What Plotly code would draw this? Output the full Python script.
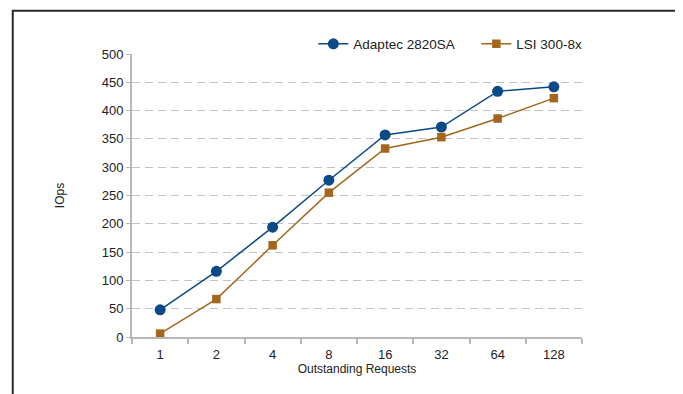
import plotly.graph_objects as go

categories = ["1", "2", "4", "8", "16", "32", "64", "128"]
adaptec = [48, 116, 194, 277, 357, 371, 434, 442]
lsi = [6, 67, 162, 255, 333, 353, 386, 422]
y_ticks = [0, 50, 100, 150, 200, 250, 300, 350, 400, 450, 500]

BLUE = "#0b4a86"
BROWN = "#a4661c"
FONT = "Liberation Sans, Arial, sans-serif"

fig = go.Figure()
fig.add_trace(go.Scatter(
    x=categories, y=adaptec, name="Adaptec 2820SA", mode="lines+markers",
    line=dict(color=BLUE, width=1.5),
    marker=dict(symbol="circle", size=11, color=BLUE),
))
fig.add_trace(go.Scatter(
    x=categories, y=lsi, name="LSI 300-8x", mode="lines+markers",
    line=dict(color=BROWN, width=1.5),
    marker=dict(symbol="square", size=8.5, color=BROWN),
))

fig.update_layout(
    width=683, height=394,
    margin=dict(l=124, r=109, t=46, b=65),
    paper_bgcolor="white", plot_bgcolor="white",
    font=dict(family=FONT, size=13, color="#222"),
    showlegend=True,
    legend=dict(orientation="h", x=0.403, y=1.035, xanchor="left", yanchor="middle",
                font=dict(size=13.5, color="#222"), bgcolor="rgba(0,0,0,0)",
                itemwidth=30, tracegroupgap=0, entrywidth=118),
    xaxis=dict(
        type="category", range=[-0.5, 7.5], tickson="boundaries",
        showline=True, linecolor="#b8b8b8", linewidth=2,
        ticks="outside", ticklen=5, tickcolor="#b8b8b8", tickwidth=1.5,
        showgrid=False, zeroline=False, ticklabelstandoff=4,
        tickfont=dict(size=13, color="#222"),
        title=dict(text="Outstanding Requests", font=dict(size=12, color="#222"), standoff=1),
    ),
    yaxis=dict(
        range=[0, 500], tickvals=y_ticks,
        showline=True, linecolor="#b8b8b8", linewidth=2,
        ticks="outside", ticklen=4, tickcolor="#b8b8b8",
        showgrid=True, gridcolor="#c4c4c4", gridwidth=1.2, griddash="8px,5px",
        zeroline=False,
        tickfont=dict(size=13, color="#222"),
        title=dict(text="IOps", font=dict(size=12, color="#222"), standoff=34),
    ),
    shapes=[dict(type="rect", xref="paper", yref="paper",
                 x0=-0.265, x1=1.2156, y0=-0.25, y1=1.153,
                 line=dict(color="#2a2a2a", width=2), layer="below")],
)

fig.write_html("out.html")
